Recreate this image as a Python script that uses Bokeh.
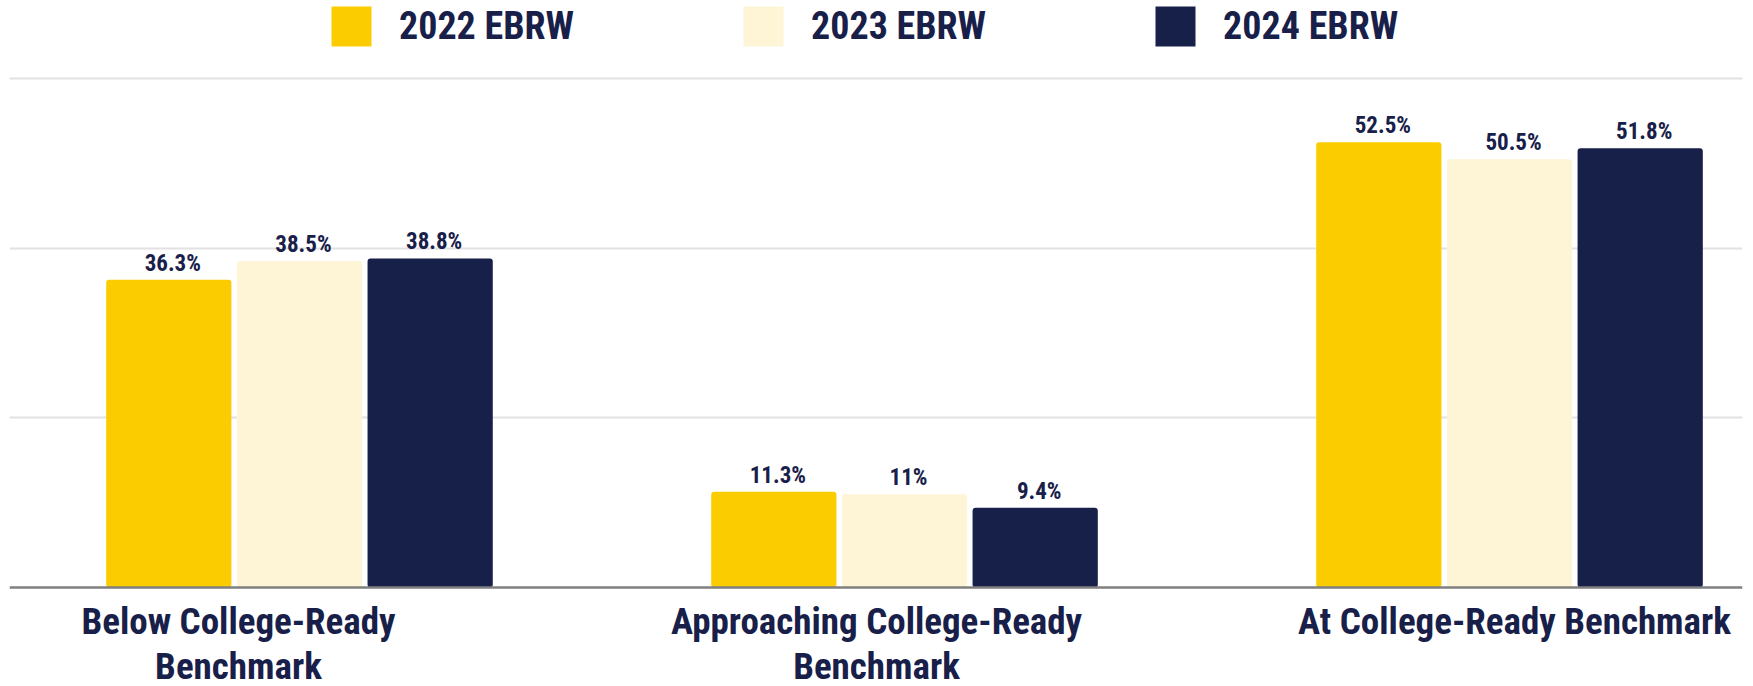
from bokeh.plotting import figure
from bokeh.models import ColumnDataSource, Range1d, FixedTicker, Span, Legend, LegendItem
from bokeh.transform import dodge
from bokeh.core.properties import value
from bokeh.embed import file_html
from bokeh.resources import INLINE

# ---------------- data ----------------
categories = ["Below College-Ready\nBenchmark",
              "Approaching College-Ready\nBenchmark",
              "At College-Ready Benchmark"]
series_names = ["2022 EBRW", "2023 EBRW", "2024 EBRW"]
ebrw_2022 = [36.3, 11.3, 52.5]
ebrw_2023 = [38.5, 11.0, 50.5]
ebrw_2024 = [38.8, 9.4, 51.8]
grid_ticks = [20, 40, 60]

# ---------------- style ----------------
FONT = ("'Noto Sans ExtraCondensed', 'Noto Sans Condensed', 'Roboto Condensed', "
        "'DejaVu Sans Condensed', sans-serif")
NAVY = "#182049"
colors = ["#FBCD00", "#FEF5D6", "#172049"]
offsets = [-0.216, 0.0, 0.216]
BAR_W = 0.207
label_shift = [-61, -28, 5]   # px shift of category labels (as in the reference)

W, H = 1753, 686
p = figure(width=W, height=H, output_backend="svg", toolbar_location=None,
           x_range=Range1d(-0.4793, 2.3851), y_range=Range1d(-11.67, 69.22),
           min_border_left=9, min_border_right=11, min_border_top=0, min_border_bottom=0,
           background_fill_color="white", border_fill_color="white")
p.outline_line_color = None
p.xaxis.visible = False
p.yaxis.visible = False
p.xgrid.visible = False
p.ygrid.ticker = FixedTicker(ticks=grid_ticks)
p.ygrid.grid_line_color = "#E2E2E2"
p.ygrid.grid_line_width = 2

idx = list(range(len(categories)))
series = [ebrw_2022, ebrw_2023, ebrw_2024]
items = []
for name, vals, color, off in zip(series_names, series, colors, offsets):
    src = ColumnDataSource(dict(x=idx, top=vals, label=[f"{v:g}%" for v in vals]))
    r = p.vbar(x=dodge("x", off), top="top", bottom=0, width=BAR_W, source=src,
               fill_color=color, line_color=None, border_radius=3)
    p.text(x=dodge("x", off), y="top", text="label", source=src, x_offset=4, y_offset=-3,
           text_align="center", text_baseline="bottom", text_font=value(FONT),
           text_font_style="bold", text_font_size="23px", text_color=NAVY)
    items.append(LegendItem(label=name, renderers=[r]))

p.add_layout(Span(location=0, dimension="width", line_color="#7F7F7F", line_width=2.5))

p.text(x=idx, y=[0] * len(idx), text=categories, x_offset=label_shift, y_offset=12,
       text_align="center", text_baseline="top", text_font=value(FONT),
       text_font_style="bold", text_font_size="37px", text_color=NAVY,
       text_line_height=1.05)

legend = Legend(items=items, orientation="horizontal", location=(317, 635),
                glyph_width=50, glyph_height=50, label_standoff=23, spacing=164,
                padding=0, margin=0, border_line_color=None, background_fill_alpha=0,
                label_text_font=FONT, label_text_font_style="bold",
                label_text_font_size="38px", label_text_color=NAVY)
p.add_layout(legend, "center")

open("out.html", "w").write(file_html(p, INLINE))
